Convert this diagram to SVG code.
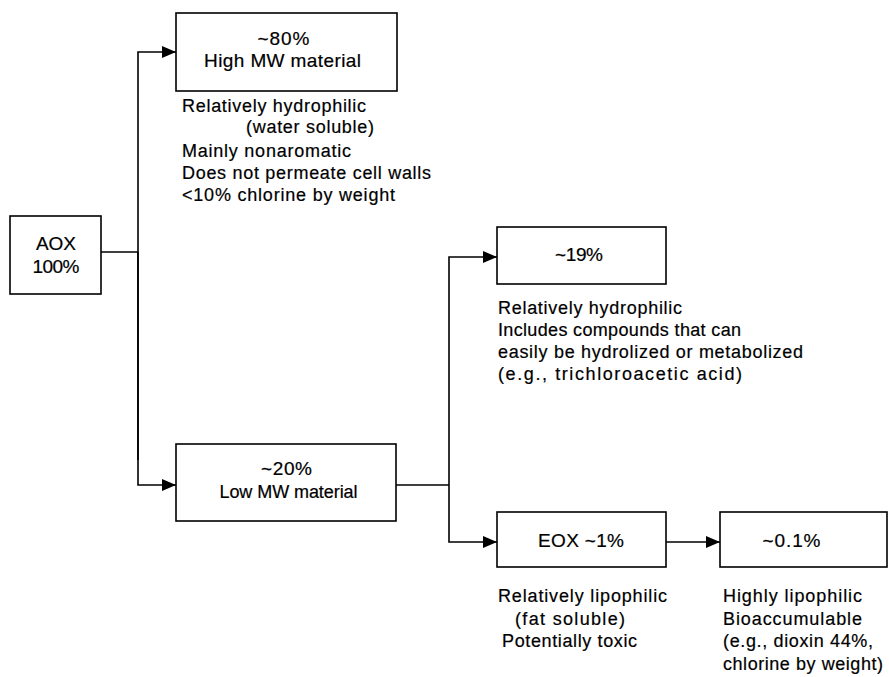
<svg xmlns="http://www.w3.org/2000/svg" width="889" height="677" viewBox="0 0 889 677">
<defs>
<marker id="ah" markerWidth="14" markerHeight="12" refX="14" refY="6" orient="auto" markerUnits="userSpaceOnUse">
<path d="M0,0 L14,6 L0,12 Z" fill="#000"/>
</marker>
<style>
.box{fill:#fff;stroke:#000;stroke-width:1.6}
.ln{fill:none;stroke:#000;stroke-width:1.6}
text{font-family:"Liberation Sans",Arial,sans-serif;fill:#000;stroke:#000;stroke-width:0.2}
.bt{font-size:19px;text-anchor:middle}
.st{font-size:18px}
</style>
</defs>
<rect width="889" height="677" fill="#fff"/>
<g id="connectors">
<path class="ln" d="M101,252 H138"/>
<path class="ln" d="M138,460 V52 H176" marker-end="url(#ah)"/>
<path class="ln" d="M138,252 V485 H176" marker-end="url(#ah)"/>
<path class="ln" d="M396,485 H449"/>
<path class="ln" d="M449,485 V257 H497" marker-end="url(#ah)"/>
<path class="ln" d="M449,485 V542 H497" marker-end="url(#ah)"/>
<path class="ln" d="M666,542 H720" marker-end="url(#ah)"/>
</g>
<g id="aox">
<rect class="box" x="10" y="216" width="91" height="78"/>
<text class="bt" x="56" y="250" textLength="40">AOX</text>
<text class="bt" x="56" y="273" textLength="47">100%</text>
</g>
<g id="high-mw">
<rect class="box" x="176" y="13" width="221" height="78"/>
<text class="bt" x="283.5" y="45" textLength="52">~80%</text>
<text class="bt" x="282.5" y="67" textLength="157">High MW material</text>
<text class="st" x="182" y="112" textLength="184">Relatively hydrophilic</text>
<text class="st" x="246" y="133" textLength="128">(water soluble)</text>
<text class="st" x="182" y="157" textLength="169">Mainly nonaromatic</text>
<text class="st" x="182" y="179" textLength="249">Does not permeate cell walls</text>
<text class="st" x="182" y="201" textLength="213">&lt;10% chlorine by weight</text>
</g>
<g id="low-mw">
<rect class="box" x="176" y="444" width="220" height="77"/>
<text class="bt" x="286.5" y="475" textLength="51">~20%</text>
<text class="bt" x="288.5" y="498" textLength="138" style="font-size:18px">Low MW material</text>
</g>
<g id="pct19">
<rect class="box" x="497" y="227" width="169" height="57"/>
<text class="bt" x="579" y="261" textLength="48">~19%</text>
<text class="st" x="498" y="314" textLength="184">Relatively hydrophilic</text>
<text class="st" x="498" y="336" textLength="243">Includes compounds that can</text>
<text class="st" x="498" y="358" textLength="305">easily be hydrolized or metabolized</text>
<text class="st" x="498" y="380" textLength="244">(e.g., trichloroacetic acid)</text>
</g>
<g id="eox">
<rect class="box" x="497" y="512" width="169" height="55"/>
<text class="bt" x="581" y="547" textLength="86">EOX ~1%</text>
<text class="st" x="498" y="602" textLength="169">Relatively lipophilic</text>
<text class="st" x="515" y="625" textLength="110">(fat soluble)</text>
<text class="st" x="502" y="647" textLength="135">Potentially toxic</text>
</g>
<g id="pct01">
<rect class="box" x="720" y="512" width="167" height="55"/>
<text class="bt" x="791.5" y="547" textLength="58">~0.1%</text>
<text class="st" x="723" y="602" textLength="139">Highly lipophilic</text>
<text class="st" x="723" y="625" textLength="139">Bioaccumulable</text>
<text class="st" x="723" y="647" textLength="150">(e.g., dioxin 44%,</text>
<text class="st" x="723" y="670" textLength="160">chlorine by weight)</text>
</g>
</svg>
